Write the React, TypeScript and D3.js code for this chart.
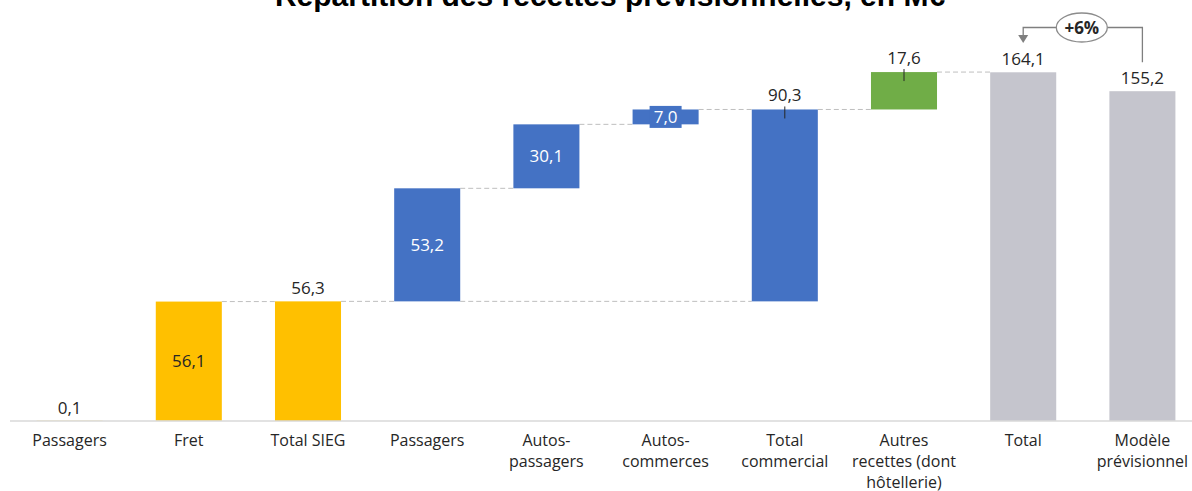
import React from "react";
import * as d3 from "d3";

const title = "Répartition des recettes prévisionnelles, en M€";
const categoryLines: string[][] = [
  ["Passagers"],
  ["Fret"],
  ["Total SIEG"],
  ["Passagers"],
  ["Autos-", "passagers"],
  ["Autos-", "commerces"],
  ["Total", "commercial"],
  ["Autres", "recettes (dont", "hôtellerie)"],
  ["Total"],
  ["Modèle", "prévisionnel"],
];
const values = [0.1, 56.1, 56.3, 53.2, 30.1, 7.0, 90.3, 17.6, 164.1, 155.2];
const kinds = ["delta", "delta", "total", "delta", "delta", "delta", "subtotal", "delta", "total", "ref"];
const groups = ["sieg", "sieg", "sieg", "com", "com", "com", "com", "autres", "total", "total"];
const labelPlacement = ["above", "inside", "above", "inside", "inside", "inside", "leader", "leader", "above", "above"];
const growthLabel = "+6%";

const W = 1192;
const H = 491;
const colors: Record<string, string> = {
  sieg: "#FFC000",
  com: "#4472C4",
  autres: "#70AD47",
  total: "#C5C5CD",
};
const textDark = "#262626";
const font = "'Open Sans', sans-serif";

function fmt(v: number) {
  return v.toFixed(1).replace(".", ",");
}

export default function App() {
  const x = d3
    .scaleBand<number>()
    .domain(values.map((_, i) => i))
    .range([10, 1202])
    .paddingInner(0.446)
    .paddingOuter(0.223);
  const y = d3.scaleLinear().domain([0, 170]).range([421, 421 - 170 * 2.125]);
  const bw = x.bandwidth();

  let running = 0;
  let groupStart = 0;
  const bars = values.map((v, i) => {
    const k = kinds[i];
    let y0 = 0;
    let y1 = v;
    if (k === "delta") {
      y0 = running;
      y1 = running + v;
      running = y1;
    } else if (k === "total") {
      y0 = 0;
      y1 = v;
      running = v;
      groupStart = v;
    } else if (k === "subtotal") {
      y0 = groupStart;
      y1 = groupStart + v;
      running = y1;
    }
    return { i, v, y0, y1 };
  });

  const connectors: { x1: number; x2: number; yv: number }[] = [];
  for (let i = 1; i < bars.length - 1; i++) {
    if (kinds[i + 1] === "ref" || kinds[i] === "ref") continue;
    connectors.push({ x1: x(i)! + bw, x2: x(i + 1)!, yv: bars[i].y1 });
  }
  const subIdx = kinds.indexOf("subtotal");
  const firstCom = groups.indexOf("com");
  connectors.push({ x1: x(firstCom)! + bw, x2: x(subIdx)!, yv: bars[subIdx].y0 });

  const iTot = kinds.lastIndexOf("total");
  const iRef = kinds.indexOf("ref");
  const cxTot = x(iTot)! + bw / 2;
  const cxRef = x(iRef)! + bw / 2;
  const ellCx = (cxTot + cxRef) / 2 - 1;
  const ellCy = 27.5;
  const rx = 25.5;
  const ry = 14.5;

  return (
    <svg width={W} height={H} style={{ display: "block", position: "absolute", left: 0, top: 0 }}>
      <rect width={W} height={H} fill="#fff" />
      <text x={610} y={5.5} textAnchor="middle" fontFamily="'Liberation Sans', Arial, sans-serif" fontWeight="bold" fontSize={30} fill="#000">
        {title}
      </text>

      {connectors.map((c, k) => (
        <line key={k} x1={c.x1} x2={c.x2} y1={y(c.yv)} y2={y(c.yv)} stroke="#BFBFBF" strokeWidth={1} strokeDasharray="5,3" />
      ))}

      {bars.map((b) => (
        <rect
          key={b.i}
          x={x(b.i)}
          y={y(Math.max(b.y0, b.y1))}
          width={bw}
          height={Math.abs(y(b.y0) - y(b.y1))}
          fill={colors[groups[b.i]]}
        />
      ))}

      <line x1={10} x2={W} y1={y(0)} y2={y(0)} stroke="#D9D9D9" strokeWidth={1.5} />

      {bars.map((b) => {
        const cx = x(b.i)! + bw / 2;
        const top = y(b.y1);
        const p = labelPlacement[b.i];
        const label = fmt(b.v);
        if (p === "inside") {
          const cy = (y(b.y0) + y(b.y1)) / 2;
          const h = Math.abs(y(b.y0) - y(b.y1));
          const isDark = groups[b.i] === "sieg";
          return (
            <g key={b.i}>
              {h < 22 && <rect x={cx - 16} y={cy - 11} width={32} height={22} fill={colors[groups[b.i]]} />}
              <text x={cx} y={cy} dy="0.35em" textAnchor="middle" fontFamily={font} fontSize={17} fill={isDark ? textDark : "#fff"}>
                {label}
              </text>
            </g>
          );
        }
        if (p === "leader") {
          return (
            <g key={b.i}>
              <line x1={cx} x2={cx} y1={top - 3} y2={top + 9} stroke={textDark} strokeWidth={1} />
              <text x={cx} y={top - 14} dy="0.35em" textAnchor="middle" fontFamily={font} fontSize={17} fill={textDark}>
                {label}
              </text>
            </g>
          );
        }
        return (
          <text key={b.i} x={cx} y={top - 13} dy="0.35em" textAnchor="middle" fontFamily={font} fontSize={17} fill={textDark}>
            {label}
          </text>
        );
      })}

      {categoryLines.map((lines, i) => (
        <text key={i} x={x(i)! + bw / 2} y={446} textAnchor="middle" fontFamily={font} fontSize={16} fill={textDark}>
          {lines.map((l, j) => (
            <tspan key={j} x={x(i)! + bw / 2} dy={j === 0 ? 0 : 21}>
              {l}
            </tspan>
          ))}
        </text>
      ))}

      <path
        d={`M${cxRef},${y(values[iRef]) - 29} V${ellCy} H${ellCx + rx}`}
        fill="none"
        stroke="#7F7F7F"
        strokeWidth={1.3}
      />
      <path d={`M${ellCx - rx},${ellCy} H${cxTot} V${36}`} fill="none" stroke="#7F7F7F" strokeWidth={1.3} />
      <path d={`M${cxTot - 5},${35} L${cxTot + 5},${35} L${cxTot},${43} Z`} fill="#7F7F7F" />
      <ellipse cx={ellCx} cy={ellCy} rx={rx} ry={ry} fill="#fff" stroke="#8C8C8C" strokeWidth={1.3} />
      <text x={ellCx} y={ellCy} dy="0.36em" textAnchor="middle" fontFamily={font} fontWeight="bold" fontSize={17} fill={textDark}>
        {growthLabel}
      </text>
    </svg>
  );
}
